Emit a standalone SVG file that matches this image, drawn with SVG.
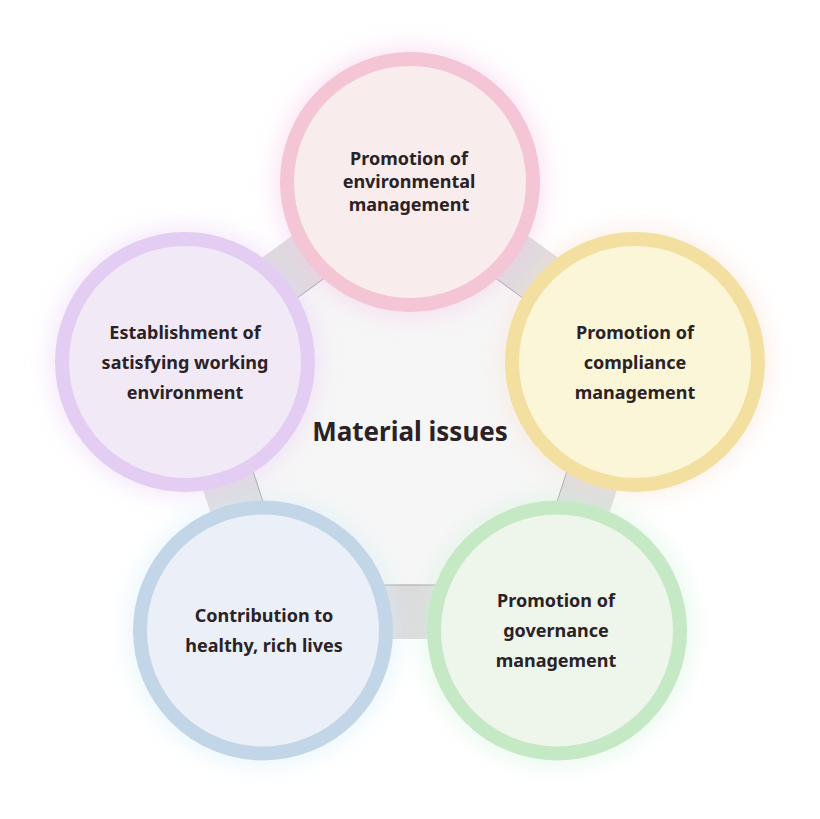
<svg xmlns="http://www.w3.org/2000/svg" width="820" height="819" viewBox="0 0 820 819">
  <defs>
    <filter id="glow" x="-50%" y="-50%" width="200%" height="200%">
      <feGaussianBlur stdDeviation="12"/>
    </filter>
    <style>
      .ring { stroke-width: 14; }
      .halo { filter: url(#glow); opacity: 0.55; }
      .label { font-family: "Noto Sans", "Open Sans", "Liberation Sans", sans-serif; font-weight: bold; font-size: 18px; fill: #2a2226; text-anchor: middle; }
      .title { font-family: "Noto Sans", "Open Sans", "Liberation Sans", sans-serif; font-weight: bold; font-size: 26px; fill: #2a2226; text-anchor: middle; }
    </style>
  </defs>
  <rect x="0" y="0" width="820" height="819" fill="#ffffff"/>

  <g id="connectors">
    <polygon points="410,150 667,337 568,639 252,639 153,337" fill="#dcdadc"/>
    <polygon points="410,216 604,357 530,585 290,585 216,357" fill="#f6f6f6" stroke="#9e9e9e" stroke-width="1"/>
  </g>

  <g id="halos">
    <circle class="halo" cx="410" cy="182" r="134" fill="#f6c8ea"/>
    <circle class="halo" cx="635" cy="362" r="134" fill="#f8e2d6"/>
    <circle class="halo" cx="185" cy="362" r="134" fill="#ead2f6"/>
    <circle class="halo" cx="263" cy="630.5" r="134" fill="#d6eef8"/>
    <circle class="halo" cx="557" cy="630.5" r="134" fill="#d4f2dc"/>
  </g>

  <text class="title" x="410" y="441">Material issues</text>

  <g id="node-environmental">
    <circle class="ring" cx="410" cy="182" r="123" fill="#f9ecec" stroke="#f4c5d5"/>
    <text class="label" x="409" y="165">Promotion of</text>
    <text class="label" x="409" y="188">environmental</text>
    <text class="label" x="409" y="211">management</text>
  </g>

  <g id="node-compliance">
    <circle class="ring" cx="635" cy="362" r="123" fill="#fbf6d8" stroke="#f3e0a0"/>
    <text class="label" x="635" y="339">Promotion of</text>
    <text class="label" x="635" y="369">compliance</text>
    <text class="label" x="635" y="399">management</text>
  </g>

  <g id="node-working-environment">
    <circle class="ring" cx="185" cy="362" r="123" fill="#f2e9f7" stroke="#e4cdf3"/>
    <text class="label" x="185" y="339">Establishment of</text>
    <text class="label" x="185" y="369">satisfying working</text>
    <text class="label" x="185" y="399">environment</text>
  </g>

  <g id="node-healthy-lives">
    <circle class="ring" cx="263" cy="630.5" r="123" fill="#ebeff7" stroke="#c3d6e8"/>
    <text class="label" x="264" y="622">Contribution to</text>
    <text class="label" x="264" y="652">healthy, rich lives</text>
  </g>

  <g id="node-governance">
    <circle class="ring" cx="557" cy="630.5" r="123" fill="#eef6ec" stroke="#c5e8c5"/>
    <text class="label" x="556" y="607">Promotion of</text>
    <text class="label" x="556" y="637">governance</text>
    <text class="label" x="556" y="667">management</text>
  </g>
</svg>
